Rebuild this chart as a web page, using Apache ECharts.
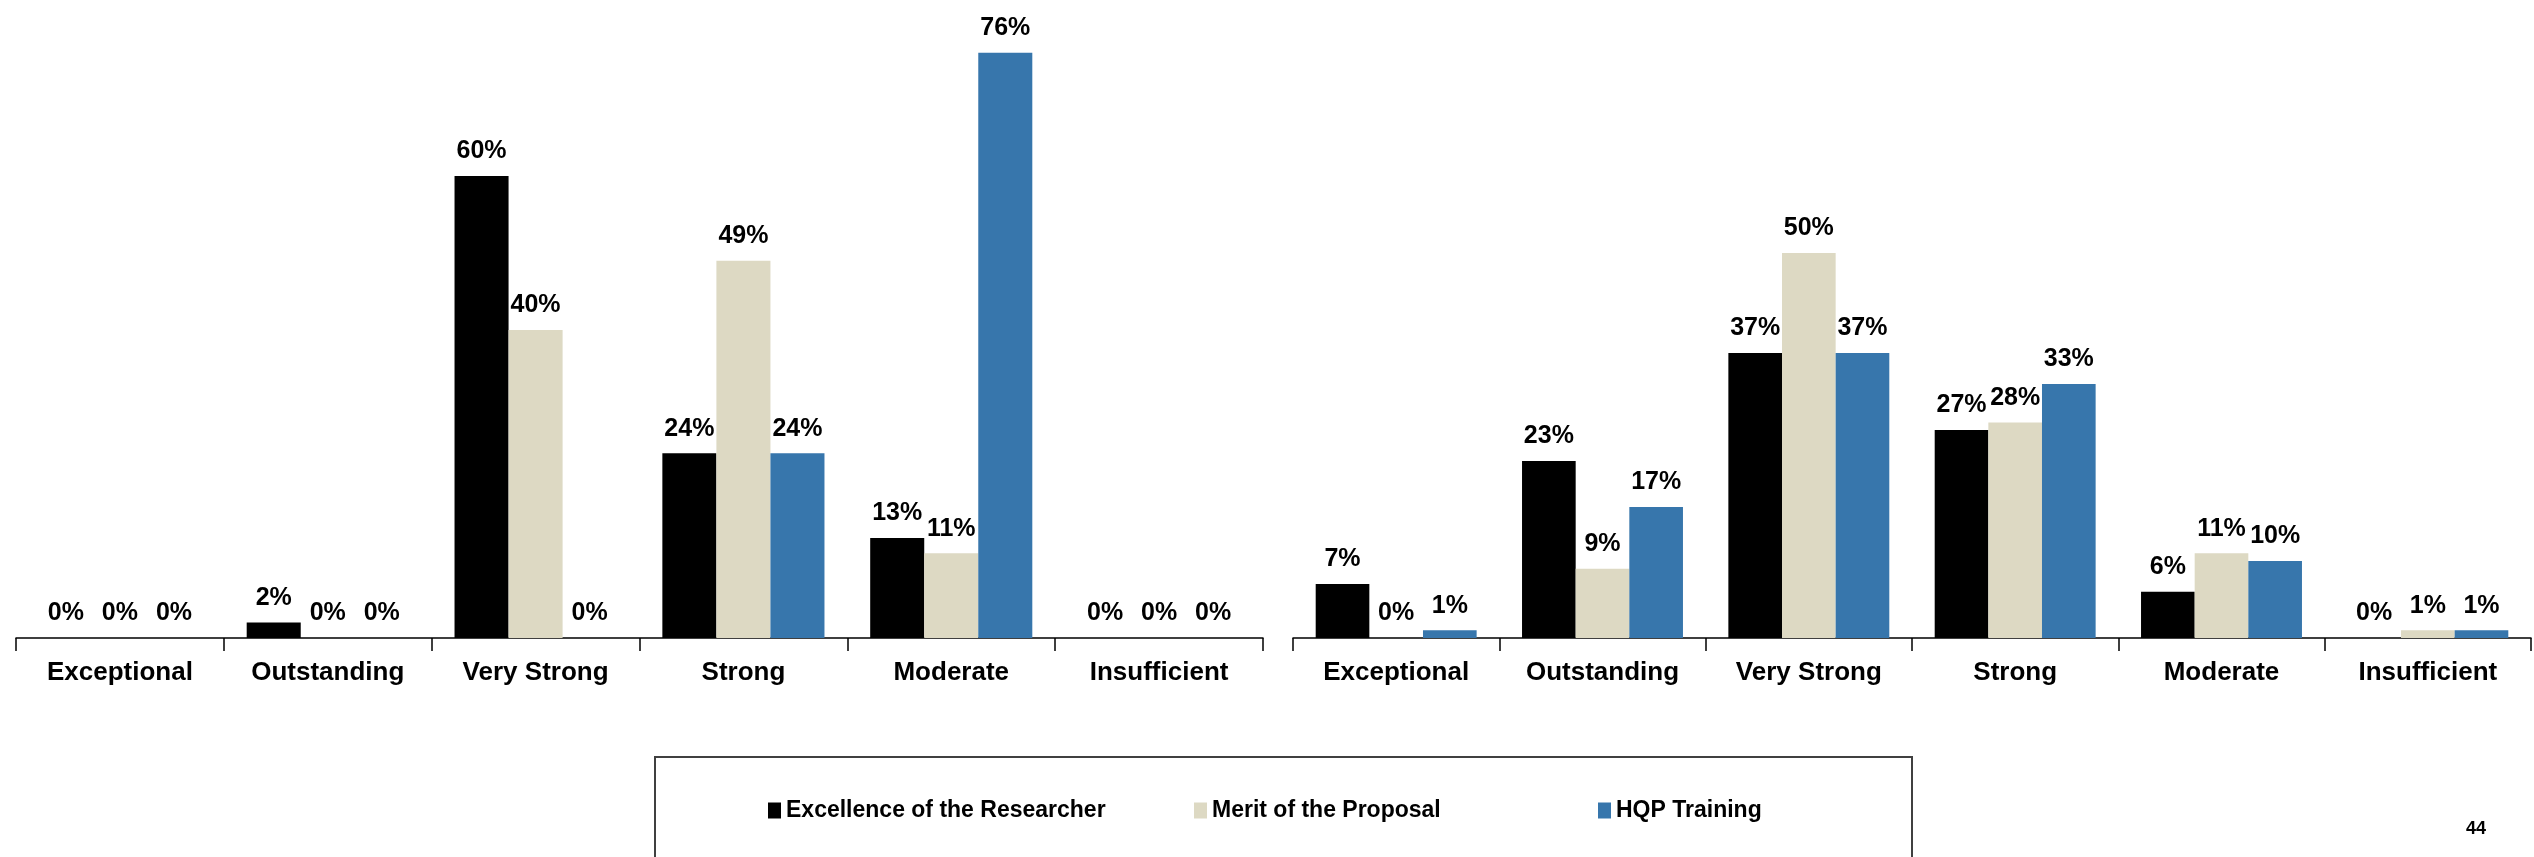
<!DOCTYPE html>
<html>
<head>
<meta charset="utf-8">
<script src="https://cdn.jsdelivr.net/npm/echarts@6/dist/echarts.min.js"></script>
<style>
  html, body { margin: 0; padding: 0; background: #fff; }
  #chart { width: 2534px; height: 857px; }
</style>
</head>
<body>
<div id="chart"></div>
<script>
// rating categories, same for both panels
const categories = ['Exceptional', 'Outstanding', 'Very Strong', 'Strong', 'Moderate', 'Insufficient'];
const seriesNames = ['Excellence of the Researcher', 'Merit of the Proposal', 'HQP Training'];
const colors = ['#000000', '#DDD9C3', '#3776AC'];

// left panel (%)
const leftResearcher = [0, 2, 60, 24, 13, 0];
const leftProposal = [0, 0, 40, 49, 11, 0];
const leftHqp = [0, 0, 0, 24, 76, 0];

// right panel (%)
const rightResearcher = [7, 23, 37, 27, 6, 0];
const rightProposal = [0, 9, 50, 28, 11, 1];
const rightHqp = [1, 17, 37, 33, 10, 1];

const FONT = "'Liberation Sans Narrow', 'Arial Narrow', 'Liberation Sans', sans-serif";

const chart = echarts.init(document.getElementById('chart'));

function xAxisFor(gridIndex) {
  return {
    type: 'category',
    gridIndex: gridIndex,
    data: categories,
    boundaryGap: true,
    axisLine: { lineStyle: { color: '#000', width: 1.5 } },
    axisTick: { show: true, length: 13, lineStyle: { color: '#000', width: 1.5 } },
    axisLabel: {
      interval: 0, margin: 22, color: '#000',
      fontFamily: FONT, fontWeight: 'bold', fontSize: 26
    }
  };
}

function yAxisFor(gridIndex) {
  return {
    type: 'value', gridIndex: gridIndex, min: 0, max: 80,
    show: false, splitLine: { show: false }
  };
}

function barSeries(name, data, idx, axisIdx) {
  return {
    name: name,
    type: 'bar',
    xAxisIndex: axisIdx,
    yAxisIndex: axisIdx,
    data: data,
    barGap: '0%',
    barCategoryGap: '22%',
    itemStyle: { color: colors[idx] },
    label: {
      show: true, position: 'top', distance: 12,
      formatter: '{c}%', color: '#000',
      fontFamily: FONT, fontWeight: 'bold', fontSize: 25
    }
  };
}

const legendLefts = [763, 1189, 1593];

chart.setOption({
  animation: false,
  grid: [
    { left: 16, right: 1271, top: 22, bottom: 219 },
    { left: 1293, right: 3, top: 22, bottom: 219 }
  ],
  xAxis: [xAxisFor(0), xAxisFor(1)],
  yAxis: [yAxisFor(0), yAxisFor(1)],
  legend: seriesNames.map((n, i) => ({
    data: [n],
    left: legendLefts[i],
    top: 794,
    icon: 'rect',
    itemWidth: 13,
    itemHeight: 16,
    itemGap: 0,
    textStyle: { color: '#000', fontFamily: FONT, fontWeight: 'bold', fontSize: 23 }
  })),
  graphic: [
    {
      type: 'rect',
      shape: { x: 655, y: 757, width: 1257, height: 120 },
      style: { fill: 'none', stroke: '#404040', lineWidth: 2 }
    },
    {
      type: 'text',
      left: 2466, top: 820,
      style: { text: '44', fill: '#000', font: "bold 18px 'Liberation Sans', sans-serif" }
    }
  ],
  series: [
    barSeries(seriesNames[0], leftResearcher, 0, 0),
    barSeries(seriesNames[1], leftProposal, 1, 0),
    barSeries(seriesNames[2], leftHqp, 2, 0),
    barSeries(seriesNames[0], rightResearcher, 0, 1),
    barSeries(seriesNames[1], rightProposal, 1, 1),
    barSeries(seriesNames[2], rightHqp, 2, 1)
  ]
});
</script>
</body>
</html>
